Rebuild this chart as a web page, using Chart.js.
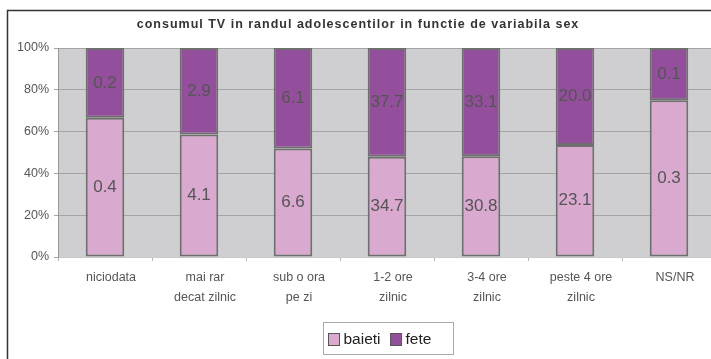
<!DOCTYPE html>
<html lang="ro">
<head>
<meta charset="UTF-8" />
<title>consum TV</title>
<script src="https://cdn.jsdelivr.net/npm/chart.js"></script>
<style>
  html, body {
    margin: 0; padding: 0;
    background: #ffffff;
    overflow: hidden;
  }
  #wrap {
    width: 711px;
    height: 359px;
    overflow: hidden;
  }
</style>
</head>
<body>
<div id="wrap">
  <canvas id="tvChart" width="740" height="359"></canvas>
</div>

<script>
  const chartTitle = 'consumul TV in randul adolescentilor in functie de variabila sex';
  const categories = [
    ['niciodata'],
    ['mai rar', 'decat zilnic'],
    ['sub o ora', 'pe zi'],
    ['1-2 ore', 'zilnic'],
    ['3-4 ore', 'zilnic'],
    ['peste 4 ore', 'zilnic'],
    ['NS/NR']
  ];
  const baieti = [0.4, 4.1, 6.6, 34.7, 30.8, 23.1, 0.3];
  const fete = [0.2, 2.9, 6.1, 37.7, 33.1, 20.0, 0.1];
  const yTicks = [0, 20, 40, 60, 80, 100];

  const pink = '#d9a9cf';
  const purple = '#934f9c';
  const plotBg = '#cfcfd1';
  const textGray = '#555555';
  const sans = '"Liberation Sans", Arial, sans-serif';

  // share of each series within its column (100% stacked)
  function share(vals, other) {
    return vals.map((v, i) => v / (v + other[i]) * 100);
  }

  const frameAndBackground = {
    id: 'frameAndBackground',
    beforeDraw(chart) {
      const ctx = chart.ctx;
      const a = chart.chartArea;
      ctx.save();
      ctx.fillStyle = '#fff';
      ctx.fillRect(0, 0, chart.width, chart.height);
      ctx.fillStyle = plotBg;
      ctx.fillRect(a.left, a.top, a.right - a.left, a.bottom - a.top);
      ctx.strokeStyle = '#333';
      ctx.lineWidth = 1.5;
      ctx.beginPath();
      ctx.moveTo(7.5, chart.height + 5);
      ctx.lineTo(7.5, 10.5);
      ctx.lineTo(chart.width + 5, 10.5);
      ctx.stroke();
      // title
      ctx.fillStyle = '#333';
      ctx.font = 'bold 12.5px ' + sans;
      ctx.letterSpacing = '1px';
      ctx.textAlign = 'center';
      ctx.textBaseline = 'middle';
      ctx.fillText(chartTitle, 358, 25);
      ctx.restore();
    }
  };

  const valueLabels = {
    id: 'valueLabels',
    afterDatasetsDraw(chart) {
      const ctx = chart.ctx;
      const raw = [baieti, fete];
      ctx.save();
      ctx.fillStyle = textGray;
      ctx.font = '17px ' + sans;
      ctx.textAlign = 'center';
      ctx.textBaseline = 'middle';
      chart.data.datasets.forEach((ds, di) => {
        chart.getDatasetMeta(di).data.forEach((bar, i) => {
          const y = (bar.y + bar.base) / 2;
          ctx.fillText(raw[di][i].toFixed(1), bar.x, y);
        });
      });
      ctx.restore();
    }
  };

  const boxLegend = {
    id: 'boxLegend',
    afterDraw(chart) {
      const ctx = chart.ctx;
      ctx.save();
      ctx.fillStyle = '#fff';
      ctx.strokeStyle = '#aaa';
      ctx.lineWidth = 1;
      ctx.fillRect(323.5, 322.5, 130, 32);
      ctx.strokeRect(323.5, 322.5, 130, 32);
      ctx.font = '15.5px ' + sans;
      ctx.textBaseline = 'middle';
      ctx.textAlign = 'left';
      let x = 328.5;
      chart.data.datasets.forEach(ds => {
        ctx.fillStyle = ds.backgroundColor;
        ctx.strokeStyle = '#555';
        ctx.fillRect(x, 333.5, 11, 12);
        ctx.strokeRect(x, 333.5, 11, 12);
        ctx.fillStyle = '#222';
        ctx.fillText(ds.label, x + 15, 339.5);
        x += ctx.measureText(ds.label).width + 25;
      });
      ctx.restore();
    }
  };

  new Chart(document.getElementById('tvChart'), {
    type: 'bar',
    data: {
      labels: categories,
      datasets: [
        {
          label: 'baieti',
          data: share(baieti, fete),
          backgroundColor: pink,
          borderColor: '#6f6f6f',
          borderWidth: 2,
          borderSkipped: false
        },
        {
          label: 'fete',
          data: share(fete, baieti),
          backgroundColor: purple,
          borderColor: '#6f6f6f',
          borderWidth: 2,
          borderSkipped: false
        }
      ]
    },
    options: {
      responsive: false,
      animation: false,
      layout: { padding: { left: 8, top: 48, right: 24, bottom: 0 } },
      datasets: { bar: { categoryPercentage: 1, barPercentage: 0.41 } },
      plugins: {
        legend: { display: false },
        tooltip: { enabled: false }
      },
      scales: {
        x: {
          stacked: true,
          afterFit(scale) { scale.height = 102; },
          grid: {
            drawOnChartArea: false,
            tickLength: 4,
            color: '#b8b8b8'
          },
          border: { color: '#c8c8c8', width: 1 },
          ticks: {
            color: textGray,
            padding: 7,
            labelOffset: 6,
            maxRotation: 0,
            autoSkip: false,
            font: { family: sans, size: 12.5, lineHeight: 1.55 }
          }
        },
        y: {
          stacked: true,
          min: 0,
          max: 100,
          afterFit(scale) { scale.width = 50; },
          afterBuildTicks(scale) {
            scale.ticks = yTicks.map(v => ({ value: v }));
          },
          grid: {
            color: '#a4a4a4',
            tickLength: 4,
            lineWidth: 1
          },
          border: { color: '#999', width: 1 },
          ticks: {
            color: textGray,
            padding: 5,
            font: { family: sans, size: 12.5 },
            callback: v => v + '%'
          }
        }
      }
    },
    plugins: [frameAndBackground, valueLabels, boxLegend]
  });
</script>
</body>
</html>
